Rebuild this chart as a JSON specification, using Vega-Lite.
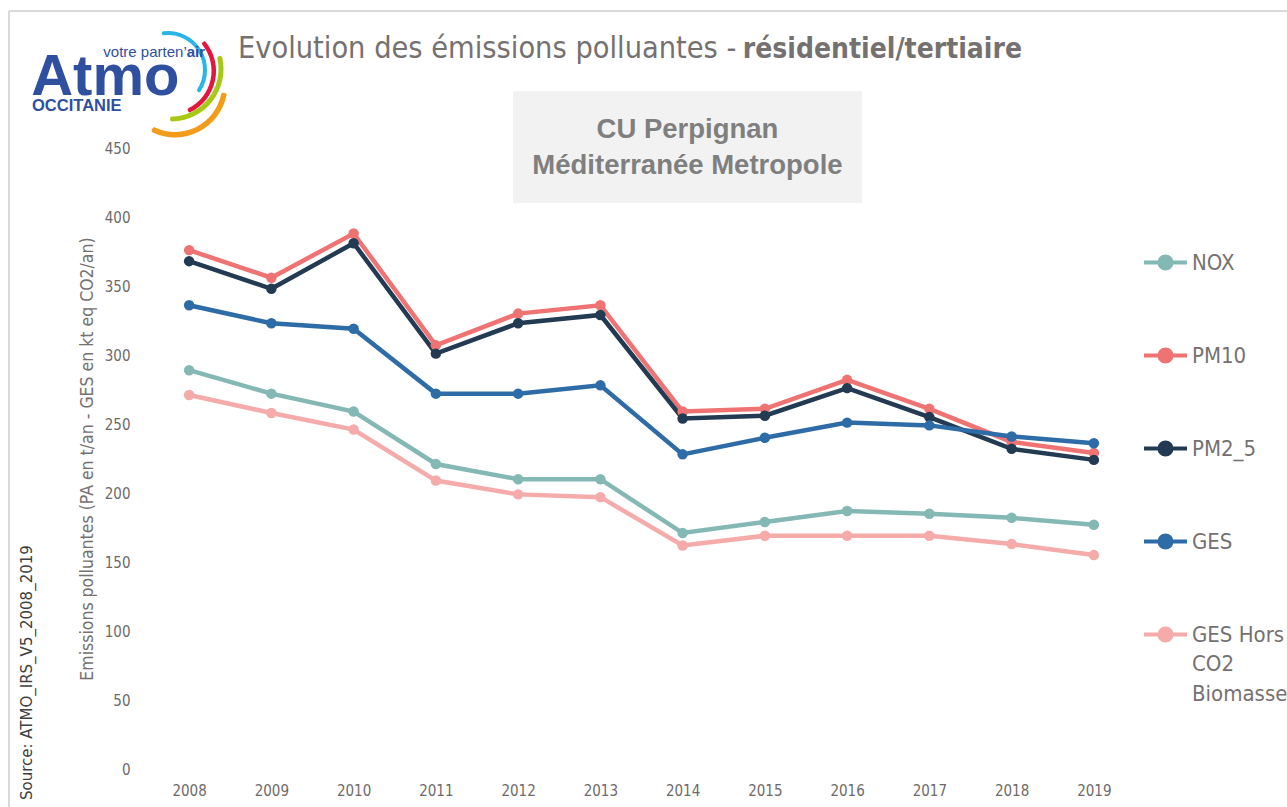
{
  "$schema": "https://vega.github.io/schema/vega-lite/v6.json",
  "width": 987,
  "height": 621,
  "autosize": {"type": "none"},
  "padding": {"left": 148, "top": 148, "right": 152, "bottom": 38},
  "background": "white",
  "config": {
    "view": {"stroke": null},
    "font": "DejaVu Sans Condensed, sans-serif"
  },
  "datasets": {
    "emis": [
      {"year": 2008, "polluant": "NOX", "valeur": 289},
      {"year": 2009, "polluant": "NOX", "valeur": 272},
      {"year": 2010, "polluant": "NOX", "valeur": 259},
      {"year": 2011, "polluant": "NOX", "valeur": 221},
      {"year": 2012, "polluant": "NOX", "valeur": 210},
      {"year": 2013, "polluant": "NOX", "valeur": 210},
      {"year": 2014, "polluant": "NOX", "valeur": 171},
      {"year": 2015, "polluant": "NOX", "valeur": 179},
      {"year": 2016, "polluant": "NOX", "valeur": 187},
      {"year": 2017, "polluant": "NOX", "valeur": 185},
      {"year": 2018, "polluant": "NOX", "valeur": 182},
      {"year": 2019, "polluant": "NOX", "valeur": 177},
      {"year": 2008, "polluant": "PM10", "valeur": 376},
      {"year": 2009, "polluant": "PM10", "valeur": 356},
      {"year": 2010, "polluant": "PM10", "valeur": 388},
      {"year": 2011, "polluant": "PM10", "valeur": 307},
      {"year": 2012, "polluant": "PM10", "valeur": 330},
      {"year": 2013, "polluant": "PM10", "valeur": 336},
      {"year": 2014, "polluant": "PM10", "valeur": 259},
      {"year": 2015, "polluant": "PM10", "valeur": 261},
      {"year": 2016, "polluant": "PM10", "valeur": 282},
      {"year": 2017, "polluant": "PM10", "valeur": 261},
      {"year": 2018, "polluant": "PM10", "valeur": 237},
      {"year": 2019, "polluant": "PM10", "valeur": 229},
      {"year": 2008, "polluant": "PM2_5", "valeur": 368},
      {"year": 2009, "polluant": "PM2_5", "valeur": 348},
      {"year": 2010, "polluant": "PM2_5", "valeur": 381},
      {"year": 2011, "polluant": "PM2_5", "valeur": 301},
      {"year": 2012, "polluant": "PM2_5", "valeur": 323},
      {"year": 2013, "polluant": "PM2_5", "valeur": 329},
      {"year": 2014, "polluant": "PM2_5", "valeur": 254},
      {"year": 2015, "polluant": "PM2_5", "valeur": 256},
      {"year": 2016, "polluant": "PM2_5", "valeur": 276},
      {"year": 2017, "polluant": "PM2_5", "valeur": 255},
      {"year": 2018, "polluant": "PM2_5", "valeur": 232},
      {"year": 2019, "polluant": "PM2_5", "valeur": 224},
      {"year": 2008, "polluant": "GES", "valeur": 336},
      {"year": 2009, "polluant": "GES", "valeur": 323},
      {"year": 2010, "polluant": "GES", "valeur": 319},
      {"year": 2011, "polluant": "GES", "valeur": 272},
      {"year": 2012, "polluant": "GES", "valeur": 272},
      {"year": 2013, "polluant": "GES", "valeur": 278},
      {"year": 2014, "polluant": "GES", "valeur": 228},
      {"year": 2015, "polluant": "GES", "valeur": 240},
      {"year": 2016, "polluant": "GES", "valeur": 251},
      {"year": 2017, "polluant": "GES", "valeur": 249},
      {"year": 2018, "polluant": "GES", "valeur": 241},
      {"year": 2019, "polluant": "GES", "valeur": 236},
      {"year": 2008, "polluant": "GES Hors CO2 Biomasse", "valeur": 271},
      {"year": 2009, "polluant": "GES Hors CO2 Biomasse", "valeur": 258},
      {"year": 2010, "polluant": "GES Hors CO2 Biomasse", "valeur": 246},
      {"year": 2011, "polluant": "GES Hors CO2 Biomasse", "valeur": 209},
      {"year": 2012, "polluant": "GES Hors CO2 Biomasse", "valeur": 199},
      {"year": 2013, "polluant": "GES Hors CO2 Biomasse", "valeur": 197},
      {"year": 2014, "polluant": "GES Hors CO2 Biomasse", "valeur": 162},
      {"year": 2015, "polluant": "GES Hors CO2 Biomasse", "valeur": 169},
      {"year": 2016, "polluant": "GES Hors CO2 Biomasse", "valeur": 169},
      {"year": 2017, "polluant": "GES Hors CO2 Biomasse", "valeur": 169},
      {"year": 2018, "polluant": "GES Hors CO2 Biomasse", "valeur": 163},
      {"year": 2019, "polluant": "GES Hors CO2 Biomasse", "valeur": 155}
    ]
  },
  "layer": [
    {
      "data": {"values": [{}]},
      "mark": {"type": "rule", "color": "#d9d9d9", "strokeWidth": 2},
      "encoding": {"x": {"datum": 2005.81}, "x2": {"datum": 2021.6}, "y": {"datum": 549.3}}
    },
    {
      "data": {"values": [{}]},
      "mark": {"type": "rule", "color": "#d9d9d9", "strokeWidth": 2},
      "encoding": {"x": {"datum": 2005.81}, "y": {"datum": 549.3}, "y2": {"datum": -35}}
    },
    {
      "data": {"values": [{}]},
      "mark": {"type": "arc", "color": "#29b6e6", "theta": -0.17, "theta2": 2.2, "radius": 39, "radius2": 35, "cornerRadius": 2},
      "encoding": {"x": {"datum": 2007.743}, "y": {"datum": 506.5}}
    },
    {
      "data": {"values": [{}]},
      "mark": {"type": "arc", "color": "#e3173e", "theta": 0.85, "theta2": 2.72, "radius": 46, "radius2": 41.5, "cornerRadius": 2},
      "encoding": {"x": {"datum": 2007.768}, "y": {"datum": 505.8}}
    },
    {
      "data": {"values": [{}]},
      "mark": {"type": "arc", "color": "#a9c816", "theta": 1.31, "theta2": 3.16, "radius": 52.5, "radius2": 47.5, "cornerRadius": 2},
      "encoding": {"x": {"datum": 2007.78}, "y": {"datum": 507.2}}
    },
    {
      "data": {"values": [{}]},
      "mark": {"type": "arc", "color": "#f39c19", "theta": 1.73, "theta2": 3.62, "radius": 52.5, "radius2": 47, "cornerRadius": 2},
      "encoding": {"x": {"datum": 2007.829}, "y": {"datum": 495.7}}
    },
    {
      "data": {"values": [{}]},
      "mark": {"type": "text", "text": "Atmo", "font": "Liberation Sans", "fontWeight": "bold", "fontSize": 58, "color": "#2f4f9f", "align": "left", "baseline": "alphabetic"},
      "encoding": {"x": {"datum": 2006.08}, "y": {"datum": 488.4}}
    },
    {
      "data": {"values": [{}]},
      "mark": {"type": "text", "text": "votre parten’", "font": "Liberation Sans", "fontSize": 15, "color": "#2f4f9f", "align": "right", "baseline": "alphabetic"},
      "encoding": {"x": {"datum": 2007.971}, "y": {"datum": 515.9}}
    },
    {
      "data": {"values": [{}]},
      "mark": {"type": "text", "text": "air", "font": "Liberation Sans", "fontWeight": "bold", "fontSize": 15, "color": "#2f4f9f", "align": "right", "baseline": "alphabetic"},
      "encoding": {"x": {"datum": 2008.193}, "y": {"datum": 515.9}}
    },
    {
      "data": {"values": [{}]},
      "mark": {"type": "text", "text": "OCCITANIE", "font": "Liberation Sans", "fontWeight": "bold", "fontSize": 16.5, "color": "#2f4f9f", "align": "left", "baseline": "alphabetic"},
      "encoding": {"x": {"datum": 2006.09}, "y": {"datum": 476.8}}
    },
    {
      "data": {"values": [{}]},
      "mark": {"type": "text", "text": "Evolution des émissions polluantes - ", "fontSize": 30.4, "color": "#767171", "align": "left", "baseline": "alphabetic"},
      "encoding": {"x": {"datum": 2008.594}, "y": {"datum": 515.2}}
    },
    {
      "data": {"values": [{}]},
      "mark": {"type": "text", "text": "résidentiel/tertiaire", "fontSize": 28, "fontWeight": "bold", "color": "#767171", "align": "right", "baseline": "alphabetic"},
      "encoding": {"x": {"datum": 2018.126}, "y": {"datum": 515.2}}
    },
    {
      "data": {"name": "emis"},
      "mark": {"type": "line", "strokeWidth": 4.5},
      "encoding": {
        "x": {
          "field": "year", "type": "quantitative",
          "scale": {"domain": [2007.5, 2019.5], "nice": false, "zero": false},
          "axis": {
            "values": [2008, 2009, 2010, 2011, 2012, 2013, 2014, 2015, 2016, 2017, 2018, 2019],
            "format": "d", "title": null, "grid": false, "domain": false, "ticks": false,
            "labelFontSize": 15, "labelColor": "#6e6a6a", "labelPadding": 14
          }
        },
        "y": {
          "field": "valeur", "type": "quantitative",
          "scale": {"domain": [0, 450], "nice": false},
          "axis": {
            "values": [0, 50, 100, 150, 200, 250, 300, 350, 400, 450],
            "title": "Emissions polluantes (PA en t/an - GES en kt eq CO2/an)",
            "titleFontSize": 17.5, "titleFontWeight": "normal", "titleColor": "#767171", "titlePadding": 8,
            "labelFontSize": 15, "labelColor": "#6e6a6a", "labelPadding": 18,
            "ticks": false, "domain": false, "gridColor": "#d9d9d9", "gridWidth": 2
          }
        },
        "color": {
          "field": "polluant", "type": "nominal",
          "scale": {
            "domain": ["NOX", "PM10", "PM2_5", "GES", "GES Hors CO2 Biomasse"],
            "range": ["#84b8b5", "#ee7372", "#233a53", "#2e6ca7", "#f5abaa"]
          },
          "legend": {
            "orient": "none", "legendX": 994, "legendY": 91, "title": null, "padding": 0,
            "symbolType": "M-1,0H1M-0.28,0A0.28,0.28 0 1 1 0.28,0A0.28,0.28 0 1 1 -0.28,0Z",
            "symbolSize": 1849, "symbolStrokeWidth": 4,
            "labelFontSize": 22, "labelColor": "#767171", "labelOffset": 3, "labelLimit": 300,
            "rowPadding": 55,
            "labelExpr": "datum.label == 'GES Hors CO2 Biomasse' ? ['GES Hors', 'CO2', 'Biomasse'] : datum.label",
            "encode": {
              "symbols": {"update": {"fill": {"scale": "color", "field": "value"}, "stroke": {"scale": "color", "field": "value"}, "opacity": {"value": 1}}},
              "labels": {"update": {"lineHeight": {"value": 29.5}}}
            }
          }
        }
      }
    },
    {
      "data": {"name": "emis"},
      "mark": {"type": "point", "filled": true, "size": 110, "opacity": 1},
      "encoding": {
        "x": {"field": "year", "type": "quantitative"},
        "y": {"field": "valeur", "type": "quantitative"},
        "color": {"field": "polluant", "type": "nominal"}
      }
    },
    {
      "data": {"values": [{}]},
      "mark": {"type": "rect", "color": "#f2f2f2"},
      "encoding": {"x": {"datum": 2011.938}, "x2": {"datum": 2016.181}, "y": {"datum": 491.3}, "y2": {"datum": 410.1}}
    },
    {
      "data": {"values": [{}]},
      "mark": {"type": "text", "text": ["CU Perpignan", "Méditerranée Metropole"], "font": "Liberation Sans", "fontWeight": "bold", "fontSize": 27.5, "lineHeight": 36, "color": "#7f7f7f", "align": "center", "baseline": "middle"},
      "encoding": {"x": {"datum": 2014.059}, "y": {"datum": 463}}
    },
    {
      "data": {"values": [{}]},
      "mark": {"type": "text", "text": "Source: ATMO_IRS_V5_2008_2019", "fontSize": 16.7, "color": "#404040", "align": "left", "baseline": "middle", "angle": 270},
      "encoding": {"x": {"datum": 2006.029}, "y": {"datum": -22.5}}
    }
  ]
}
